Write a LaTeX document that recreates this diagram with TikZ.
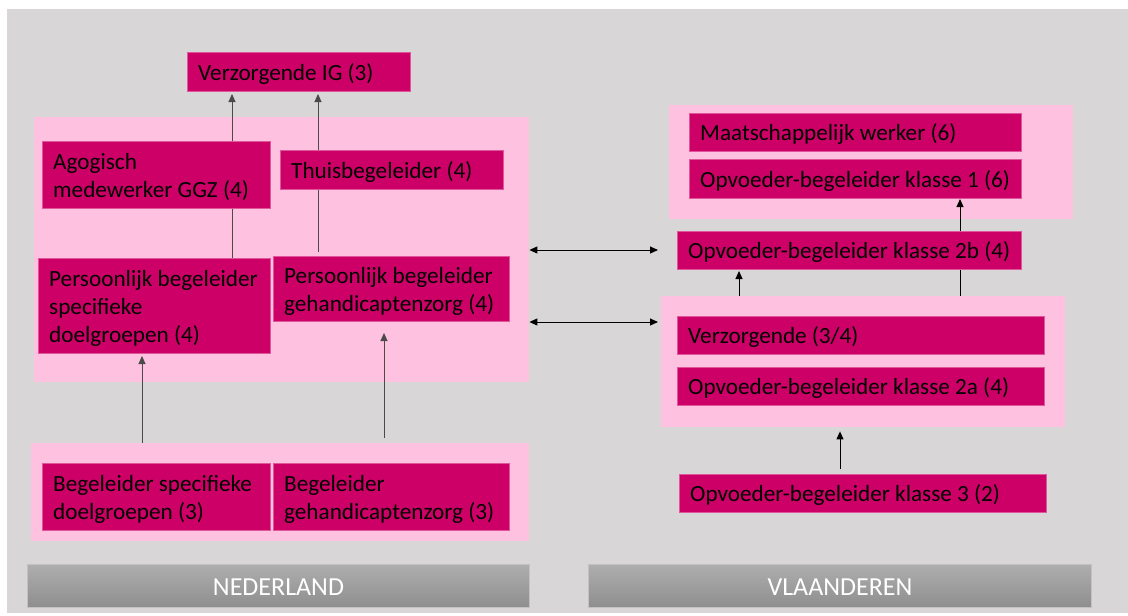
\documentclass[tikz,border=0pt]{standalone}
\usepackage{fontspec}
\setmainfont{Carlito}
\usetikzlibrary{arrows.meta,backgrounds}

\definecolor{canvas}{HTML}{D9D6D7}
\definecolor{groupfill}{HTML}{FFC1E0}
\definecolor{rolefill}{HTML}{CC0066}
\definecolor{roleedge}{HTML}{E0569A}
\definecolor{bartop}{HTML}{AEAEAE}
\definecolor{barbot}{HTML}{8E8E8E}
\definecolor{baredge}{HTML}{C2C2C2}
\definecolor{nlline}{HTML}{4A4A4A}

\pgfdeclarelayer{back}
\pgfdeclarelayer{links}
\pgfsetlayers{back,links,main}

\tikzset{
  group/.style={rectangle, fill=groupfill, draw=none, inner sep=0pt, anchor=north west},
  role/.style={rectangle, fill=rolefill, draw=roleedge, line width=1pt, inner sep=0pt, anchor=north west},
  roletext/.style={anchor=west, align=left, inner sep=0pt, text=black,
    font=\fontsize{23.2pt}{28pt}\selectfont},
  bar/.style={rectangle, top color=bartop, bottom color=barbot, draw=baredge, line width=1pt,
    inner sep=0pt, anchor=north west, text=white, font=\fontsize{26pt}{30pt}\selectfont},
  link/.style={line width=1pt, -{Triangle[length=8pt,width=7pt]}},
  twoway/.style={line width=1pt, {Triangle[length=8pt,width=7pt]}-{Triangle[length=8pt,width=7pt]}},
}

% box with its text set 11pt in from the left edge
\newcommand\rolebox[6]{%
  \node[role, minimum width=#4pt, minimum height=#5pt] (#1) at (#2,#3) {};
  \node[roletext] (#1-t) at ([xshift=11pt,yshift=-2pt]#1.west) {#6};
}

\begin{document}
\begin{tikzpicture}[x=1pt, y=-1pt]
\useasboundingbox (0,0) rectangle (1128,616);

\begin{pgfonlayer}{back}
  \fill[canvas] (7,9) rectangle (1128,613);
  % Nederland groups
  \node[group, minimum width=495pt, minimum height=265pt] (nltop) at (34,117) {};
  \node[group, minimum width=498pt, minimum height=98pt] (nlbot) at (31,443) {};
  % Vlaanderen groups
  \node[group, minimum width=404pt, minimum height=114pt] (vltop) at (669,105) {};
  \node[group, minimum width=404pt, minimum height=131pt] (vlbot) at (661,296) {};
\end{pgfonlayer}

% Nederland
\rolebox{ig}{187}{52}{223}{39}{Verzorgende IG (3)}
\rolebox{agog}{42}{141}{228}{67}{Agogisch\\medewerker GGZ (4)}
\rolebox{thuis}{280}{150}{223}{39}{Thuisbegeleider (4)}
\rolebox{pbspec}{38}{258}{232}{95}{Persoonlijk begeleider\\specifieke\\doelgroepen (4)}
\rolebox{pbgeh}{273}{256}{236}{65}{Persoonlijk begeleider\\gehandicaptenzorg (4)}
\rolebox{bspec}{42}{463}{228}{67}{Begeleider specifieke\\doelgroepen (3)}
\rolebox{bgeh}{273}{463}{236}{67}{Begeleider\\gehandicaptenzorg (3)}
\node[bar, minimum width=502pt, minimum height=43pt] (nlbar) at (27,564) {};
\node[text=white, font=\fontsize{26pt}{30pt}\selectfont, inner sep=0pt] (nlbar-t) at ([yshift=-1pt]nlbar.center) {NEDERLAND};

% Vlaanderen
\rolebox{mw}{689}{113}{332}{38}{Maatschappelijk werker (6)}
\rolebox{k1}{689}{159}{332}{39}{Opvoeder-begeleider klasse 1 (6)}
\rolebox{k2b}{677}{231}{344}{38}{Opvoeder-begeleider klasse 2b (4)}
\rolebox{verz}{677}{316}{367}{38}{Verzorgende (3/4)}
\rolebox{k2a}{677}{367}{367}{38}{Opvoeder-begeleider klasse 2a (4)}
\rolebox{k3}{679}{474}{367}{38}{Opvoeder-begeleider klasse 3 (2)}
\node[bar, minimum width=503pt, minimum height=43pt] (vlbar) at (588,564) {};
\node[text=white, font=\fontsize{26pt}{30pt}\selectfont, inner sep=0pt] (vlbar-t) at ([yshift=-1pt]vlbar.center) {VLAANDEREN};

% connector columns and free ends
\coordinate (xa) at (232,0);
\coordinate (xb) at (318,0);
\coordinate (xc) at (142,0);
\coordinate (xd) at (384,0);
\coordinate (xe) at (960,0);
\coordinate (xf) at (739,0);
\coordinate (xg) at (840,0);
\coordinate (ra) at (658,250);
\coordinate (rb) at (658,322);

\begin{pgfonlayer}{links}
  \draw[link, nlline, shorten >=2pt] (pbspec.north -| xa) -- (ig.south -| xa);
  \draw[link, nlline, shorten <=4pt, shorten >=2pt] (pbgeh.north -| xb) -- (ig.south -| xb);
  \draw[link, nlline, shorten >=2pt] (nlbot.north -| xc) -- (pbspec.south -| xc);
  \draw[link, nlline, shorten <=5pt, shorten >=11pt] (nlbot.north -| xd) -- (pbgeh.south -| xd);
  \draw[link, black] (vlbot.north -| xe) -- (k1.south -| xe);
  \draw[link, black, shorten >=1pt] (vlbot.north -| xf) -- (k2b.south -| xf);
  \draw[link, black, shorten <=5pt, shorten >=4pt] (k3.north -| xg) -- (vlbot.south -| xg);
  \draw[twoway, black] (nltop.east |- ra) -- (ra);
  \draw[twoway, black] (nltop.east |- rb) -- (rb);
\end{pgfonlayer}
\end{tikzpicture}
\end{document}
